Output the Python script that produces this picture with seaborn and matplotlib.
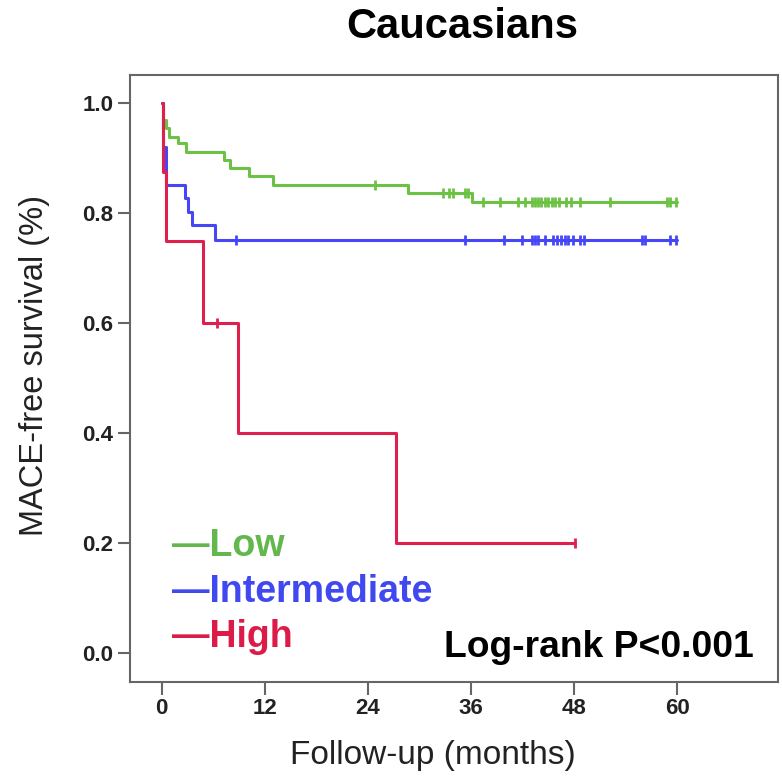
import pandas as pd
import numpy as np
import matplotlib.pyplot as plt
import seaborn as sns

# 데이터: Kaplan-Meier 계단 (시간, 생존율)
low_time = [0, 0.2, 0.5, 0.9, 1.9, 2.8, 7.2, 7.9, 10.2, 13.0, 28.7, 36.1, 60.0]
low_surv = [1.0, 0.969, 0.955, 0.938, 0.928, 0.911, 0.897, 0.883, 0.867, 0.851, 0.837, 0.820, 0.820]
low_cens = [24.8, 32.8, 33.4, 33.9, 35.3, 35.7, 37.4, 39.4, 41.5, 42.3, 43.1, 43.5, 43.8,
            44.2, 44.6, 45.0, 45.4, 45.8, 46.2, 47.1, 47.7, 48.7, 52.2, 58.8, 59.2, 59.9]

int_time = [0, 0.2, 0.5, 2.7, 3.1, 3.5, 6.2, 60.0]
int_surv = [1.0, 0.921, 0.851, 0.827, 0.803, 0.778, 0.752, 0.752]
int_cens = [8.6, 35.3, 39.8, 41.9, 43.1, 43.4, 43.8, 44.6, 45.6, 46.0, 46.5, 46.9, 47.3,
            47.9, 48.7, 49.1, 55.9, 56.3, 59.2, 59.9]

high_time = [0, 0.2, 0.5, 4.8, 8.9, 27.3, 48.1]
high_surv = [1.0, 0.875, 0.75, 0.6, 0.4, 0.2, 0.2]
high_cens = [6.4, 48.1]

groups = ['Low', 'Intermediate', 'High']
line_colors = ['#6cc244', '#4646f8', '#e0204c']
text_colors = ['#62b84c', '#4048f0', '#dc1c48']

xticks = [0, 12, 24, 36, 48, 60]
yticks = [0.0, 0.2, 0.4, 0.6, 0.8, 1.0]


def step_value(times, survs, t):
    # 검열 시점의 생존율 찾기
    idx = np.searchsorted(times, t, side='right') - 1
    return survs[idx]


curves = pd.concat([
    pd.DataFrame({'time': low_time, 'surv': low_surv, 'group': 'Low'}),
    pd.DataFrame({'time': int_time, 'surv': int_surv, 'group': 'Intermediate'}),
    pd.DataFrame({'time': high_time, 'surv': high_surv, 'group': 'High'}),
])

cens = pd.concat([
    pd.DataFrame({'time': low_cens, 'surv': [step_value(low_time, low_surv, t) for t in low_cens], 'group': 'Low'}),
    pd.DataFrame({'time': int_cens, 'surv': [step_value(int_time, int_surv, t) for t in int_cens], 'group': 'Intermediate'}),
    pd.DataFrame({'time': high_cens, 'surv': [step_value(high_time, high_surv, t) for t in high_cens], 'group': 'High'}),
])

sns.set_style('white')
plt.rcParams['font.family'] = ['Liberation Sans', 'DejaVu Sans']

fig = plt.figure(figsize=(7.82, 7.79), dpi=100)
ax = fig.add_axes([0.1662, 0.1249, 0.8283, 0.7788])

palette = dict(zip(groups, line_colors))
sns.lineplot(data=curves, x='time', y='surv', hue='group', palette=palette,
             drawstyle='steps-post', estimator=None, sort=False,
             linewidth=2.2, legend=False, ax=ax)
for g, c in zip(groups, line_colors):
    sub = cens[cens['group'] == g]
    ax.plot(sub['time'], sub['surv'], linestyle='none', marker='|',
            markersize=6.5, markeredgewidth=2.0, color=c)

ax.set_xlim(-3.69, 71.7)
ax.set_ylim(-0.0528, 1.0515)
ax.set_xticks(xticks)
ax.set_xticklabels([str(t) for t in xticks])
ax.set_yticks(yticks)
ax.set_yticklabels(['%.1f' % t for t in yticks])

for s in ax.spines.values():
    s.set_color('#666666')
    s.set_linewidth(1.5)
ax.tick_params(axis='both', direction='out', length=9, width=1.5, color='#666666',
               labelsize=16, pad=3, bottom=True, left=True)
for lab in ax.get_xticklabels() + ax.get_yticklabels():
    lab.set_fontweight('bold')
    lab.set_color('#222222')

ax.set_xlabel('Follow-up (months)', fontsize=24, color='#222222')
ax.xaxis.set_label_coords(0.468, -0.096)
ax.set_ylabel('MACE-free survival (%)', fontsize=23.5, color='#222222')
ax.yaxis.set_label_coords(-0.1235, 0.521)

fig.text(462 / 782, 1 - 38 / 779, 'Caucasians', ha='center', va='baseline',
         fontsize=30, fontweight='bold', color='black')

# 범례 (텍스트로)
leg_y = [556, 601.7, 646.7]
for g, c, py in zip(groups, text_colors, leg_y):
    ax.text(171.7 / 782, 1 - py / 779, '\u2014' + g, transform=fig.transFigure,
            ha='left', va='baseline', fontsize=27, fontweight='bold', color=c)

ax.text(753.3 / 782, 1 - 656.7 / 779, 'Log-rank P<0.001', transform=fig.transFigure,
        ha='right', va='baseline', fontsize=26.8, fontweight='bold', color='black')

plt.savefig('out.png', dpi=100)
